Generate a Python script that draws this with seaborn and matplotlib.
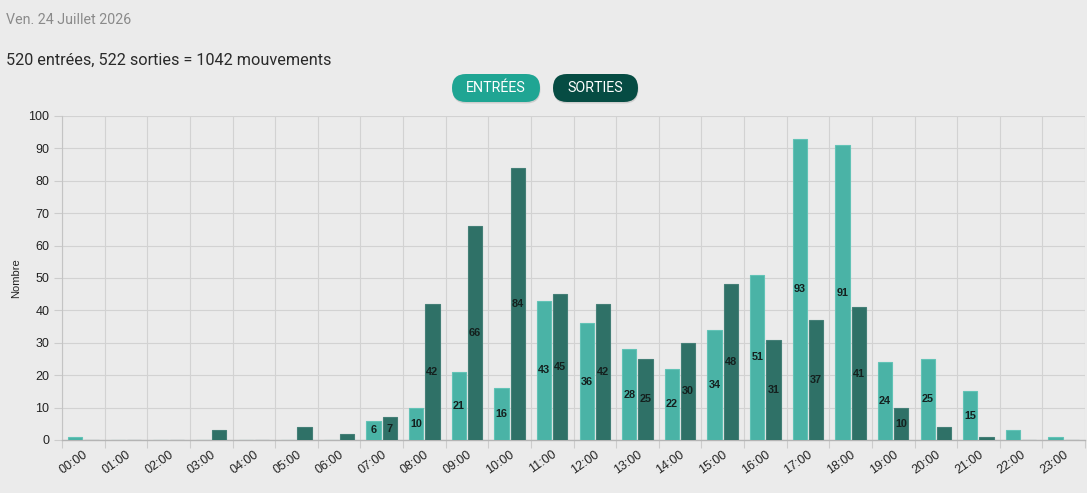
import numpy as np
import pandas as pd
import matplotlib
matplotlib.use("Agg")
import matplotlib.pyplot as plt
from matplotlib.patches import FancyBboxPatch
import seaborn as sns

hours = [f"{h:02d}:00" for h in range(24)]
entrees = [1, 0, 0, 0, 0, 0, 0, 6, 10, 21, 16, 43, 36, 28, 22, 34, 51, 93, 91, 24, 25, 15, 3, 1]
sorties = [0, 0, 0, 3, 0, 4, 2, 7, 42, 66, 84, 45, 42, 25, 30, 48, 31, 37, 41, 10, 4, 1, 0, 0]
series_names = ["Entrées", "Sorties"]
button_labels = ["ENTRÉES", "SORTIES"]
date_text = "Ven. 24 Juillet 2026"
summary_text = f"{sum(entrees)} entrées, {sum(sorties)} sorties = {sum(entrees) + sum(sorties)} mouvements"

df = pd.DataFrame({
    "heure": hours * 2,
    "nombre": entrees + sorties,
    "type": [series_names[0]] * 24 + [series_names[1]] * 24,
})

BG = "#ebebeb"
W, H = 1087, 493
sns.set_theme(style="white")
plt.rcParams["font.family"] = ["Liberation Sans", "DejaVu Sans"]

fig = plt.figure(figsize=(W / 100, H / 100), dpi=100, facecolor=BG)

# overlay in pixel coordinates for header & buttons
pix = fig.add_axes([0, 0, 1, 1], zorder=0)
pix.set_xlim(0, W)
pix.set_ylim(H, 0)
pix.axis("off")

ax = fig.add_axes([62 / W, 1 - 440 / H, (1085 - 62) / W, (440 - 116) / H], zorder=1)
ax.set_facecolor(BG)

palette = {"Entrées": "#4ab3a6", "Sorties": "#2f7167"}
sns.barplot(data=df, x="heure", y="nombre", hue="type", order=hours,
            hue_order=series_names, palette=palette, width=0.76, gap=0.12,
            saturation=1, legend=False, ax=ax, zorder=3)

edge = {"Entrées": "#62c3b6", "Sorties": "#447f77"}
for cont, name in zip(ax.containers, series_names):
    for p in cont:
        p.set_edgecolor(edge[name])
        p.set_linewidth(0.8)
    labels = [str(int(v)) if v >= 5 else "" for v in cont.datavalues]
    ax.bar_label(cont, labels=labels, label_type="center", fontsize=7.8,
                 fontweight="bold", color="#14201e", zorder=5)

ax.set_xlim(-0.5, 23.5)
ax.set_ylim(0, 100)
ax.set_yticks(np.arange(0, 101, 10))
ax.set_xticks(np.arange(-0.5, 24, 1), minor=True)
ax.grid(False)
ax.grid(True, which="minor", axis="x", color="#d2d2d2", linewidth=0.8, zorder=0)
ax.grid(True, which="major", axis="y", color="#d2d2d2", linewidth=0.8, zorder=0)
ax.tick_params(axis="x", which="major", length=0, pad=6, labelsize=9, labelcolor="#222222")
ax.tick_params(axis="x", which="minor", length=6, color="#cccccc", width=0.8, bottom=True)
ax.tick_params(axis="y", length=6, color="#cccccc", width=0.8, left=True, labelsize=9, labelcolor="#222222", pad=3)
for lbl in ax.get_xticklabels():
    lbl.set_rotation(35)
    lbl.set_ha("right")
    lbl.set_rotation_mode("anchor")

for s in ["top", "right"]:
    ax.spines[s].set_visible(False)
ax.spines["left"].set_color("#c4c4c4")
ax.spines["bottom"].set_color("#b4b4b4")
ax.spines["left"].set_linewidth(0.8)
ax.spines["bottom"].set_linewidth(1.0)

ax.set_xlabel("")
ax.set_ylabel("Nombre", fontsize=8, color="#222222", labelpad=5)

hdr_font = ["Roboto", "DejaVu Sans"]
pix.text(6, 20, date_text, fontsize=10.3, color="#8a8a8a", va="center", ha="left", family=hdr_font)
pix.text(6, 60, summary_text, fontsize=11.7, color="#2a2a2a", va="center", ha="left", family=hdr_font)

buttons = [(452, 540, "#1fa593"), (553, 638, "#064c43")]
for (x0, x1, col), txt in zip(buttons, button_labels):
    y0, y1 = 74, 102
    h = y1 - y0
    shadow = FancyBboxPatch((x0 + 0.5, y0 + 1.5), x1 - x0, h,
                            boxstyle=f"round,pad=0,rounding_size={h / 2}",
                            fc="#000000", ec="none", alpha=0.12)
    pix.add_patch(shadow)
    pill = FancyBboxPatch((x0, y0), x1 - x0, h,
                          boxstyle=f"round,pad=0,rounding_size={h / 2}",
                          fc=col, ec="none")
    pix.add_patch(pill)
    pix.text((x0 + x1) / 2, (y0 + y1) / 2 + 0.5, txt, fontsize=10.3, color="white",
             ha="center", va="center", family=hdr_font)

fig.savefig("out.png", dpi=100, facecolor=BG)
